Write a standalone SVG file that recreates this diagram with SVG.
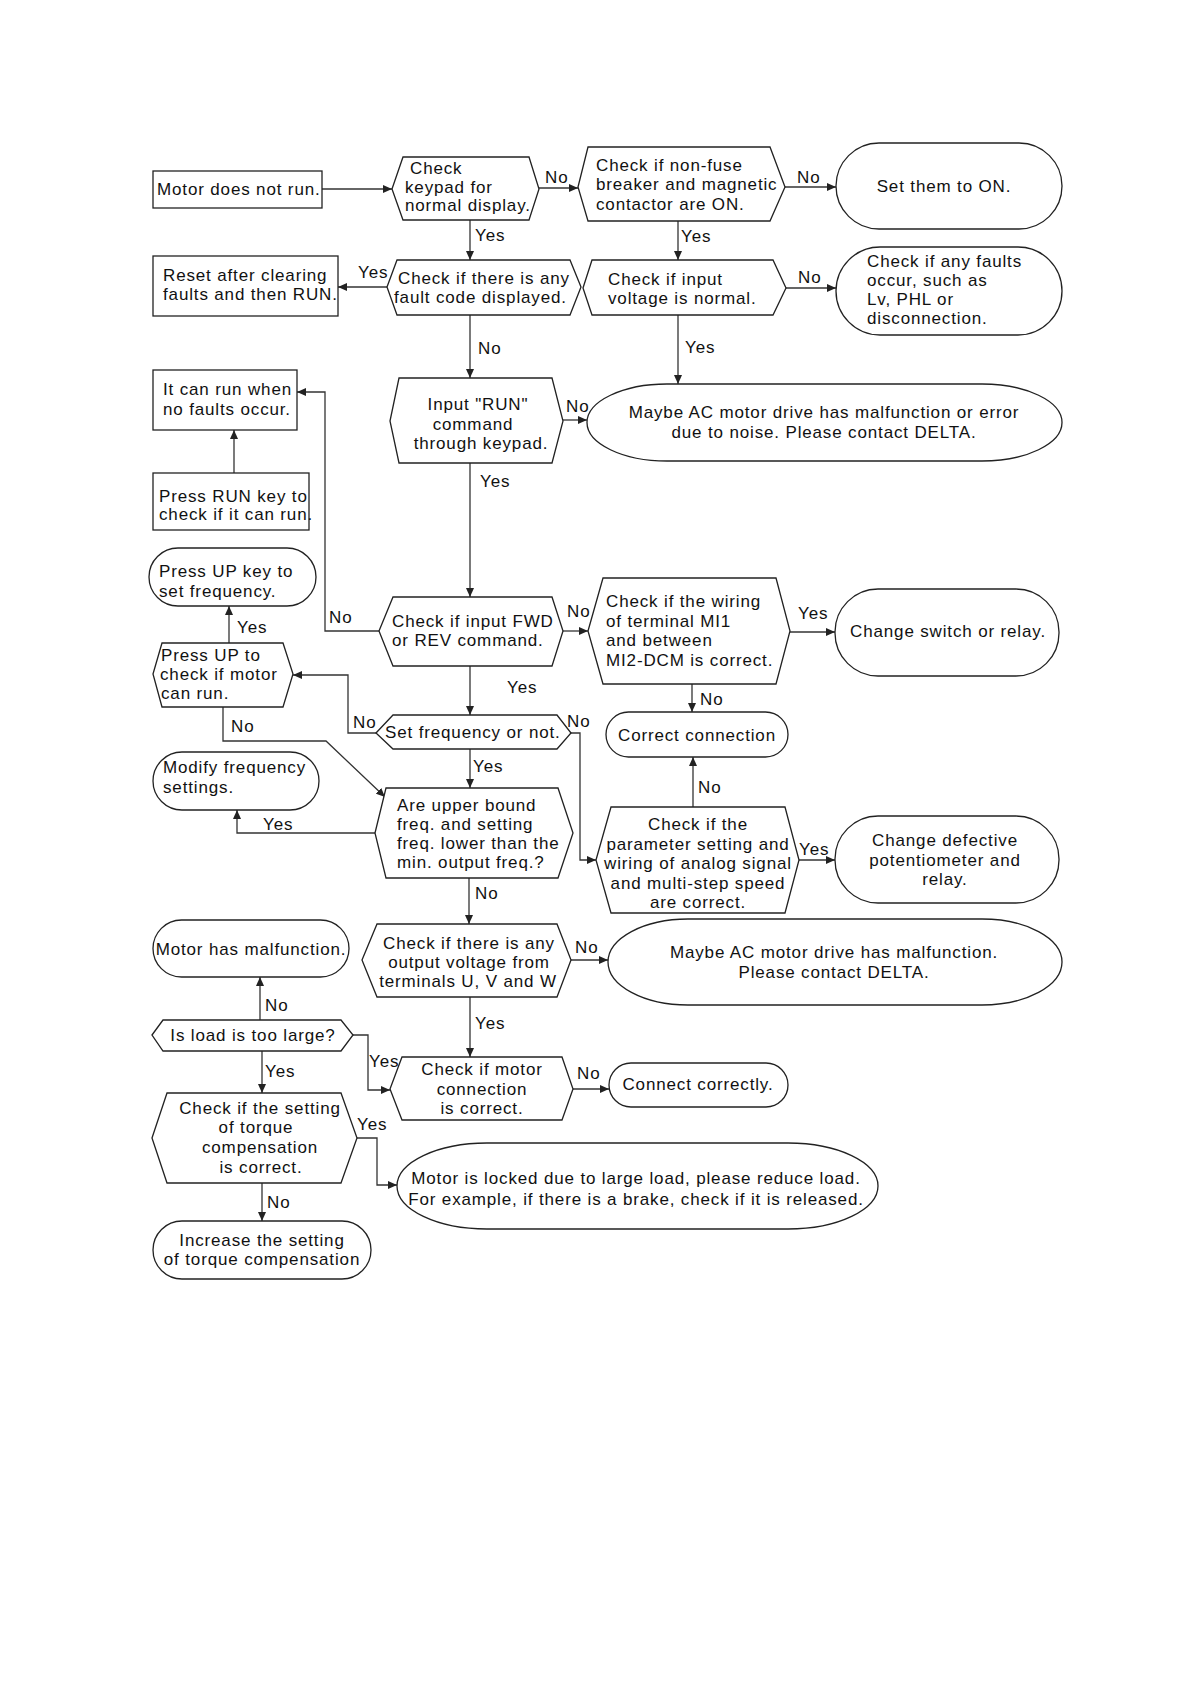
<svg xmlns="http://www.w3.org/2000/svg" width="1191" height="1684" viewBox="0 0 1191 1684">
<style>
.s{fill:#fff;stroke:#222;stroke-width:1.3}
.t{font-family:"Liberation Sans",Arial,sans-serif;font-size:17px;letter-spacing:0.85px;fill:#111}
.c{text-anchor:middle}
.l{fill:none;stroke:#333;stroke-width:1.3}
.a{marker-end:url(#ar)}
</style>
<defs>
<marker id="ar" markerWidth="9" markerHeight="8" refX="9" refY="4" orient="auto" markerUnits="userSpaceOnUse">
<path d="M0,0 L9,4 L0,8 z" fill="#222"/>
</marker>
</defs>
<rect width="1191" height="1684" fill="#fff"/>

<g id="connectors">
<path class="l a" d="M322,189 H392"/>
<path class="l a" d="M539,188 H578"/>
<path class="l a" d="M785,187 H836"/>
<path class="l a" d="M470,220 V260"/>
<path class="l a" d="M678,221 V260"/>
<path class="l a" d="M387,287 H338"/>
<path class="l a" d="M786,288 H836"/>
<path class="l a" d="M470,315 V378"/>
<path class="l a" d="M678,315 V384"/>
<path class="l a" d="M563,420 H587"/>
<path class="l a" d="M470,463 V597"/>
<path class="l a" d="M379,631 H325 V392 H297"/>
<path class="l a" d="M234,473 V430"/>
<path class="l a" d="M563,631 H588"/>
<path class="l a" d="M790,632 H835"/>
<path class="l a" d="M470,666 V715"/>
<path class="l a" d="M692,684 V712"/>
<path class="l a" d="M376,733 H348 V675 H293"/>
<path class="l a" d="M229,643 V606"/>
<path class="l a" d="M223,707 V741 H326 L385,797"/>
<path class="l a" d="M571,733 H580 V860 H596"/>
<path class="l a" d="M470,749 V788"/>
<path class="l a" d="M375,833 H237 V810"/>
<path class="l a" d="M693,807 V757"/>
<path class="l a" d="M799,860 H835"/>
<path class="l a" d="M469,878 V924"/>
<path class="l a" d="M571,960 H608"/>
<path class="l a" d="M470,997 V1057"/>
<path class="l a" d="M573,1089 H609"/>
<path class="l a" d="M260,1020 V977"/>
<path class="l a" d="M353,1035 H368 V1090 H390"/>
<path class="l a" d="M262,1051 V1093"/>
<path class="l a" d="M357,1138 H377 V1185 H397"/>
<path class="l a" d="M262,1183 V1221"/>
<g class="t">
<text x="545" y="183">No</text>
<text x="797" y="183">No</text>
<text x="475" y="241">Yes</text>
<text x="681" y="242">Yes</text>
<text x="358" y="278">Yes</text>
<text x="798" y="283">No</text>
<text x="478" y="354">No</text>
<text x="685" y="353">Yes</text>
<text x="566" y="412">No</text>
<text x="480" y="487">Yes</text>
<text x="329" y="623">No</text>
<text x="567" y="617">No</text>
<text x="798" y="619">Yes</text>
<text x="507" y="693">Yes</text>
<text x="700" y="705">No</text>
<text x="353" y="728">No</text>
<text x="237" y="633">Yes</text>
<text x="231" y="732">No</text>
<text x="567" y="727">No</text>
<text x="473" y="772">Yes</text>
<text x="263" y="830">Yes</text>
<text x="698" y="793">No</text>
<text x="799" y="855">Yes</text>
<text x="475" y="899">No</text>
<text x="575" y="953">No</text>
<text x="475" y="1029">Yes</text>
<text x="577" y="1079">No</text>
<text x="265" y="1011">No</text>
<text x="369" y="1067">Yes</text>
<text x="265" y="1077">Yes</text>
<text x="357" y="1130">Yes</text>
<text x="267" y="1208">No</text>
</g>
</g>

<g id="n-motor-not-run">
<rect class="s" x="153" y="171" width="169" height="37"/>
<text class="t" x="157" y="195">Motor does not run.</text>
</g>
<g id="n-check-keypad">
<polygon class="s" points="392,189 403,157 529,157 539,189 529,220 403,220"/>
<text class="t" x="410" y="174">Check</text>
<text class="t" x="405" y="193">keypad for</text>
<text class="t" x="405" y="211">normal display.</text>
</g>
<g id="n-nonfuse">
<polygon class="s" points="578,187 588,147 770,147 785,187 770,221 588,221"/>
<text class="t" x="596" y="171">Check if non-fuse</text>
<text class="t" x="596" y="190">breaker and magnetic</text>
<text class="t" x="596" y="210">contactor are ON.</text>
</g>
<g id="n-set-on">
<rect class="s" x="836" y="143" width="226" height="86" rx="43"/>
<text class="t c" x="944" y="192">Set them to ON.</text>
</g>
<g id="n-reset">
<rect class="s" x="153" y="256" width="185" height="60"/>
<text class="t" x="163" y="281">Reset after clearing</text>
<text class="t" x="163" y="300">faults and then RUN.</text>
</g>
<g id="n-fault-code">
<polygon class="s" points="387,287 397,260 570,260 581,287 570,315 397,315"/>
<text class="t" x="398" y="284">Check if there is any</text>
<text class="t" x="394" y="303">fault code displayed.</text>
</g>
<g id="n-input-voltage">
<polygon class="s" points="583,288 592,260 773,260 786,288 773,315 592,315"/>
<text class="t" x="608" y="285">Check if input</text>
<text class="t" x="608" y="304">voltage is normal.</text>
</g>
<g id="n-faults-lv">
<rect class="s" x="836" y="247" width="226" height="88" rx="44"/>
<text class="t" x="867" y="267">Check if any faults</text>
<text class="t" x="867" y="286">occur, such as</text>
<text class="t" x="867" y="305">Lv, PHL or</text>
<text class="t" x="867" y="324">disconnection.</text>
</g>
<g id="n-input-run">
<polygon class="s" points="390,421 399,378 552,378 563,421 552,463 399,463"/>
<text class="t c" x="478" y="410">Input "RUN"</text>
<text class="t c" x="473" y="430">command</text>
<text class="t c" x="481" y="449">through keypad.</text>
</g>
<g id="n-noise">
<rect class="s" x="587" y="384" width="475" height="77" rx="80" ry="38.5"/>
<text class="t c" x="824" y="418">Maybe AC motor drive has malfunction or error</text>
<text class="t c" x="824" y="438">due to noise. Please contact DELTA.</text>
</g>
<g id="n-can-run">
<rect class="s" x="153" y="370" width="144" height="60"/>
<text class="t" x="163" y="395">It can run when</text>
<text class="t" x="163" y="415">no faults occur.</text>
</g>
<g id="n-press-run">
<rect class="s" x="153" y="473" width="156" height="57"/>
<text class="t" x="159" y="502">Press RUN key to</text>
<text class="t" x="159" y="520">check if it can run.</text>
</g>
<g id="n-press-up-key">
<rect class="s" x="149" y="548" width="167" height="58" rx="29"/>
<text class="t" x="159" y="577">Press UP key to</text>
<text class="t" x="159" y="597">set frequency.</text>
</g>
<g id="n-press-up-check">
<polygon class="s" points="153,674 162,643 283,643 293,674 283,707 162,707"/>
<text class="t" x="161" y="661">Press UP to</text>
<text class="t" x="160" y="680">check if motor</text>
<text class="t" x="161" y="699">can run.</text>
</g>
<g id="n-fwd-rev">
<polygon class="s" points="379,631 393,597 552,597 563,631 552,666 393,666"/>
<text class="t" x="392" y="627">Check if input FWD</text>
<text class="t" x="392" y="646">or REV command.</text>
</g>
<g id="n-wiring-mi">
<polygon class="s" points="588,631 603,578 776,578 790,631 776,684 603,684"/>
<text class="t" x="606" y="607">Check if the wiring</text>
<text class="t" x="606" y="627">of terminal MI1</text>
<text class="t" x="606" y="646">and between</text>
<text class="t" x="606" y="666">MI2-DCM is correct.</text>
</g>
<g id="n-change-switch">
<rect class="s" x="835" y="589" width="224" height="87" rx="43"/>
<text class="t c" x="948" y="637">Change switch or relay.</text>
</g>
<g id="n-set-freq">
<polygon class="s" points="376,733 393,715 557,715 571,733 557,749 393,749"/>
<text class="t" x="385" y="738">Set frequency or not.</text>
</g>
<g id="n-correct-connection">
<rect class="s" x="606" y="712" width="182" height="45" rx="22.5"/>
<text class="t c" x="697" y="741">Correct connection</text>
</g>
<g id="n-param-setting">
<polygon class="s" points="596,860 611,807 785,807 799,860 785,913 611,913"/>
<text class="t c" x="698" y="830">Check if the</text>
<text class="t c" x="698" y="850">parameter setting and</text>
<text class="t c" x="698" y="869">wiring of analog signal</text>
<text class="t c" x="698" y="889">and multi-step speed</text>
<text class="t c" x="698" y="908">are correct.</text>
</g>
<g id="n-change-pot">
<rect class="s" x="835" y="816" width="224" height="87" rx="43"/>
<text class="t c" x="945" y="846">Change defective</text>
<text class="t c" x="945" y="866">potentiometer and</text>
<text class="t c" x="945" y="885">relay.</text>
</g>
<g id="n-modify-freq">
<rect class="s" x="153" y="752" width="166" height="58" rx="29"/>
<text class="t" x="163" y="773">Modify frequency</text>
<text class="t" x="163" y="793">settings.</text>
</g>
<g id="n-upper-bound">
<polygon class="s" points="375,833 386,788 558,788 573,833 558,878 386,878"/>
<text class="t" x="397" y="811">Are upper bound</text>
<text class="t" x="397" y="830">freq. and setting</text>
<text class="t" x="397" y="849">freq. lower than the</text>
<text class="t" x="397" y="868">min. output freq.?</text>
</g>
<g id="n-output-voltage">
<polygon class="s" points="362,960 377,924 557,924 571,960 557,997 377,997"/>
<text class="t c" x="469" y="949">Check if there is any</text>
<text class="t c" x="469" y="968">output voltage from</text>
<text class="t c" x="468" y="987">terminals U, V and W</text>
</g>
<g id="n-drive-malfunction">
<rect class="s" x="608" y="919" width="454" height="86" rx="80" ry="43"/>
<text class="t c" x="834" y="958">Maybe AC motor drive has malfunction.</text>
<text class="t c" x="834" y="978">Please contact DELTA.</text>
</g>
<g id="n-motor-malfunction">
<rect class="s" x="153" y="920" width="196" height="57" rx="28.5"/>
<text class="t c" x="251" y="955">Motor has malfunction.</text>
</g>
<g id="n-load-large">
<polygon class="s" points="152,1035 163,1020 341,1020 353,1035 341,1051 163,1051"/>
<text class="t c" x="253" y="1041">Is load is too large?</text>
</g>
<g id="n-motor-connection">
<polygon class="s" points="390,1089 402,1057 562,1057 573,1089 562,1120 402,1120"/>
<text class="t c" x="482" y="1075">Check if motor</text>
<text class="t c" x="482" y="1095">connection</text>
<text class="t c" x="482" y="1114">is correct.</text>
</g>
<g id="n-connect-correctly">
<rect class="s" x="609" y="1063" width="179" height="44" rx="22"/>
<text class="t c" x="698" y="1090">Connect correctly.</text>
</g>
<g id="n-torque-check">
<polygon class="s" points="152,1138 167,1093 341,1093 357,1138 341,1183 167,1183"/>
<text class="t c" x="260" y="1114">Check if the setting</text>
<text class="t c" x="256" y="1133">of torque</text>
<text class="t c" x="260" y="1153">compensation</text>
<text class="t c" x="261" y="1173">is correct.</text>
</g>
<g id="n-motor-locked">
<rect class="s" x="397" y="1143" width="481" height="86" rx="90" ry="43"/>
<text class="t c" x="636" y="1184">Motor is locked due to large load, please reduce load.</text>
<text class="t c" x="636" y="1205">For example, if there is a brake, check if it is released.</text>
</g>
<g id="n-increase-torque">
<rect class="s" x="153" y="1221" width="218" height="58" rx="29"/>
<text class="t c" x="262" y="1246">Increase the setting</text>
<text class="t c" x="262" y="1265">of torque compensation</text>
</g>
</svg>
